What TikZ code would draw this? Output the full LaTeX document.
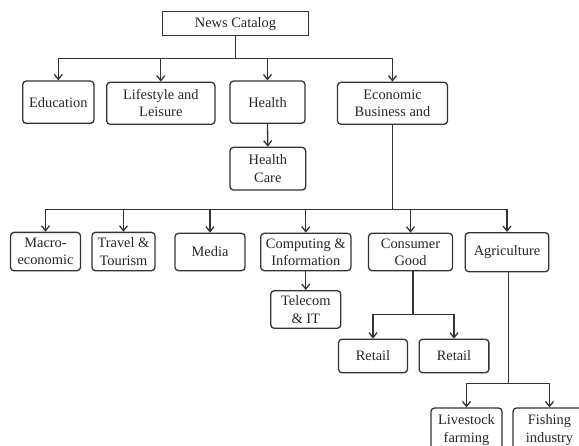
\documentclass[tikz,border=0pt]{standalone}
\usepackage{fontspec}
\setmainfont{Liberation Serif}
\usetikzlibrary{arrows.meta}
\begin{document}
\begin{tikzpicture}[x=1pt,y=-1pt,
  every node/.style={font=\fontsize{14.4}{17.3}\selectfont, text=black!85},
  box/.style={draw=black!80, line width=1.3pt, rounded corners=3.5pt, align=center, inner sep=0pt, minimum width=#1},
  box/.default=70pt,
  topbox/.style={draw=black!80, line width=1.3pt, align=center, inner sep=0pt, minimum width=145.6pt, minimum height=24pt},
  conn/.style={draw=black!80, line width=1.3pt},
  arr/.style={conn, -{Straight Barb[length=5pt,width=8pt,line width=1.3pt]}}
]
\useasboundingbox (0,0) rectangle (579,446);
\clip (0,0) rectangle (579,446);
% nodes
\node[topbox] (cat) at (235.5,23.7) {News Catalog};
\node[box=71.3pt, minimum height=42.3pt] (edu) at (58.3,102.2) {Education};
\node[box=108.3pt, minimum height=42pt] (life) at (160.8,103.3) {Lifestyle and\\Leisure};
\node[box=75pt, minimum height=42.3pt] (health) at (267.5,102.2) {Health};
\node[box=110pt, minimum height=42pt] (econ) at (392.5,103.3) {Economic\\Business and};
\node[box=75.7pt, minimum height=42.7pt] (hcare) at (267.8,168.7) {Health\\Care};
\node[box=70pt, minimum height=38.4pt] (macro) at (45.5,251.6) {Macro-\\economic};
\node[box=63pt, minimum height=38.4pt] (travel) at (123.5,251.6) {Travel \&\\Tourism};
\node[box=70pt, minimum height=37.4pt] (media) at (210,252) {Media};
\node[box=90.3pt, minimum height=37.4pt] (comp) at (305.8,252) {Computing \&\\Information};
\node[box=84pt, minimum height=37.4pt] (cons) at (410.5,252) {Consumer\\Good};
\node[box=83.6pt, minimum height=39pt] (agri) at (507,252.2) {Agriculture};
\node[box=70pt, minimum height=37.6pt] (tele) at (305.8,309.5) {Telecom\\\& IT};
\node[box=69pt, minimum height=33.4pt] (ret1) at (373,356) {Retail};
\node[box=69.7pt, minimum height=33.4pt] (ret2) at (454,356) {Retail};
\node[box=71pt, minimum height=44pt] (live) at (466.5,430) {Livestock\\farming};
\node[box=73pt, minimum height=44pt] (fish) at (549.5,430) {Fishing\\industry};
% level 1
\coordinate (b1) at (235.5,58.3);
\draw[conn] (cat.south) -- (b1);
\draw[conn] (edu.north |- b1) -- (econ.north |- b1);
\foreach \n in {edu,life,health,econ}
  \draw[arr] (\n.north |- b1) -- (\n.north);
\draw[arr] (health.south) -- (hcare.north);
% level 2
\coordinate (b2) at (393,209.3);
\draw[conn] (econ.south) -- (econ.south |- b2);
\draw[conn] (macro.north |- b2) -- (agri.north |- b2);
\foreach \n in {macro,travel,media,comp,cons,agri}
  \draw[arr] (\n.north |- b2) -- (\n.north);
\draw[arr] (comp.south) -- (tele.north);
% consumer
\coordinate (b3) at (413,314.3);
\draw[conn] (cons.south -| b3) -- (b3);
\draw[conn] (ret1.north |- b3) -- (ret2.north |- b3);
\foreach \n in {ret1,ret2}
  \draw[arr] (\n.north |- b3) -- (\n.north);
% agriculture
\coordinate (b4) at (508.7,383.3);
\draw[conn] (agri.south -| b4) -- (b4);
\draw[conn] (live.north |- b4) -- (fish.north |- b4);
\foreach \n in {live,fish}
  \draw[arr] (\n.north |- b4) -- (\n.north);
\end{tikzpicture}
\end{document}
